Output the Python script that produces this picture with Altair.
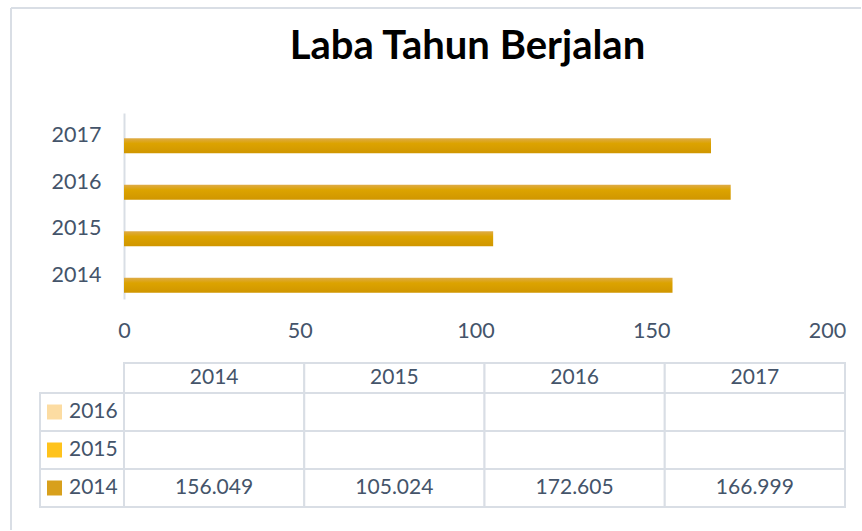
import altair as alt
import pandas as pd

# ---- data ----
categories = ["2014", "2015", "2016", "2017"]
table_series = ["2016", "2015", "2014"]          # row order of the data table
values_2014 = [156.049, 105.024, 172.605, 166.999]
values_2015 = [None, None, None, None]
values_2016 = [None, None, None, None]
x_ticks = [0, 50, 100, 150, 200]
series_colors = ["#FCDCA2", "#FFC31C", "#D8A01C"]
title_text = "Laba Tahun Berjalan"

FONT = "Lato"
TEXT = "#44546A"
GRID = "#D9DEE5"

rows = []
for s, vals in zip(["2014", "2015", "2016"], [values_2014, values_2015, values_2016]):
    for c, v in zip(categories, vals):
        rows.append({"series": s, "year": c, "value": v,
                     "label": "" if v is None else f"{v:.3f}"})
df = pd.DataFrame(rows)
one = pd.DataFrame({"k": [0]})

bar_fill = alt.Gradient(
    gradient="linear", x1=0, x2=0, y1=0, y2=1,
    stops=[alt.GradientStop(offset=0, color="#DEAB48"),
           alt.GradientStop(offset=0.35, color="#DCA300"),
           alt.GradientStop(offset=1, color="#D09600")],
)

# ---- bar chart ----
bars = alt.Chart(df).transform_filter("isValid(datum.value)").mark_bar(
    size=15, yOffset=9.5, color=bar_fill
).encode(
    x=alt.X("value:Q", scale=alt.Scale(domain=[0, 200], nice=False),
            axis=alt.Axis(values=x_ticks, grid=False, domain=False, ticks=False,
                          labelFlush=False, labelBound=False,
                          labelFont=FONT, labelFontSize=21.5, labelColor=TEXT,
                          labelPadding=21.5, title=None)),
    y=alt.Y("year:N", sort=categories[::-1],
            scale=alt.Scale(paddingInner=0, paddingOuter=0),
            axis=alt.Axis(title=None, ticks=False, domainColor=GRID, domainWidth=2,
                          labelPadding=23, labelFont=FONT, labelFontSize=21.5,
                          labelColor=TEXT)),
)

frame_top = alt.Chart(one).mark_rule(color=GRID, strokeWidth=2).encode(
    x=alt.value(-113), x2=alt.value(737), y=alt.value(-105))
frame_left = alt.Chart(one).mark_rule(color=GRID, strokeWidth=2).encode(
    x=alt.value(-113), y=alt.value(-105), y2=alt.value(417))

top = alt.layer(frame_top, frame_left, bars).properties(
    width=703, height=186,
    title=alt.TitleParams(title_text, font=FONT, fontSize=40, fontWeight="bold",
                          color="black", anchor="middle", offset=-60, dx=-8),
)

# ---- data table ----
xs = alt.X("year:N", sort=categories, axis=None,
           scale=alt.Scale(paddingInner=0, paddingOuter=0))
ys = alt.Y("series:N", sort=table_series, axis=None,
           scale=alt.Scale(paddingInner=0, paddingOuter=0))

cells = alt.Chart(df).mark_rect(fill="white", stroke=GRID, strokeWidth=2).encode(x=xs, y=ys)
cell_text = alt.Chart(df).mark_text(font=FONT, fontSize=21, color=TEXT).encode(
    x=xs, y=ys, text="label:N")

hdr = pd.DataFrame({"year": categories})
header_cells = alt.Chart(hdr).mark_rect(fill="white", stroke=GRID, strokeWidth=2).encode(
    x=xs, y=alt.value(-30), y2=alt.value(0))
header_text = alt.Chart(hdr).mark_text(font=FONT, fontSize=21, color=TEXT).encode(
    x=xs, y=alt.value(-15), text="year:N")

key = pd.DataFrame({"series": table_series})
key_cells = alt.Chart(key).mark_rect(fill="white", stroke=GRID, strokeWidth=2).encode(
    x=alt.value(-84), x2=alt.value(0), y=ys)
key_swatch = alt.Chart(key).mark_square(size=225, opacity=1).encode(
    x=alt.value(-69.5), y=ys,
    color=alt.Color("series:N", scale=alt.Scale(domain=table_series, range=series_colors),
                    legend=None))
key_text = alt.Chart(key).mark_text(font=FONT, fontSize=21, color=TEXT, align="left").encode(
    x=alt.value(-55), y=ys, text="series:N")

table = alt.layer(key_cells, key_swatch, key_text, cells, cell_text,
                  header_cells, header_text).properties(width=721, height=114)

chart = alt.vconcat(top, table, spacing=94, bounds="flush").properties(
    padding={"left": 10, "top": 7, "right": 0, "bottom": 0},
    background="white",
).configure_view(stroke=None)

chart.save("out.html", embed_options={"renderer": "svg", "actions": False})
